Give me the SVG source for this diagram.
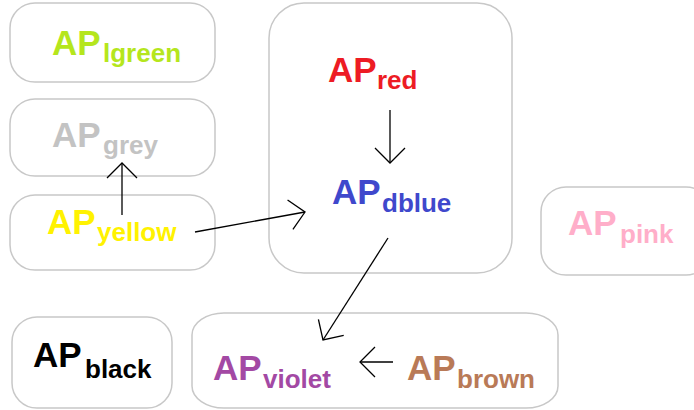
<svg xmlns="http://www.w3.org/2000/svg" width="694" height="410" viewBox="0 0 694 410">
  <style>
    .box { fill: #ffffff; stroke: #c8c8c8; stroke-width: 1.5; }
    .ap { font-family: "Liberation Sans", Arial, sans-serif; font-weight: bold; font-size: 35px; }
    .sub { font-family: "Liberation Sans", Arial, sans-serif; font-weight: bold; font-size: 26px; }
    .edge { fill: none; stroke: #000000; stroke-width: 1.3; marker-end: url(#open); }
  </style>
  <defs>
    <marker id="open" markerUnits="userSpaceOnUse" markerWidth="40" markerHeight="40" refX="20" refY="20" orient="auto" viewBox="0 0 40 40">
      <path d="M5,5 L20,20 L5,35" fill="none" stroke="#000000" stroke-width="1.3"/>
    </marker>
  </defs>
  <rect width="694" height="410" fill="#ffffff"/>

  <g id="node-lgreen">
    <rect class="box" x="10" y="3" width="205" height="79" rx="25" ry="25"/>
    <text x="52" y="55" class="ap" fill="#b5e61d">AP<tspan x="103" y="62" class="sub">lgreen</tspan></text>
  </g>

  <g id="node-grey">
    <rect class="box" x="10" y="99" width="205" height="77" rx="25" ry="25"/>
    <text x="52" y="147" class="ap" fill="#c3c3c3">AP<tspan x="103" y="154" class="sub">grey</tspan></text>
  </g>

  <g id="node-yellow">
    <rect class="box" x="10" y="195" width="205" height="75" rx="25" ry="25"/>
    <text x="47" y="234" class="ap" fill="#fff200">AP<tspan x="97" y="241" class="sub">yellow</tspan></text>
  </g>

  <g id="node-group-center">
    <rect class="box" x="269" y="3" width="243" height="270" rx="35" ry="35"/>
  </g>

  <g id="node-red">
    <text x="328" y="82" class="ap" fill="#ed1c24">AP<tspan x="377" y="89" class="sub">red</tspan></text>
  </g>

  <g id="node-dblue">
    <text x="332" y="204" class="ap" fill="#3f48cc">AP<tspan x="382" y="212" class="sub">dblue</tspan></text>
  </g>

  <g id="node-pink">
    <rect class="box" x="541" y="187" width="170" height="88" rx="25" ry="25"/>
    <text x="568" y="235" class="ap" fill="#ffaec9">AP<tspan x="620" y="243" class="sub">pink</tspan></text>
  </g>

  <g id="node-black">
    <rect class="box" x="12" y="317" width="160" height="91" rx="25" ry="25"/>
    <text x="33" y="367" class="ap" fill="#000000">AP<tspan x="85" y="378" class="sub">black</tspan></text>
  </g>

  <g id="node-group-bottom">
    <rect class="box" x="192" y="313" width="366" height="95" rx="32" ry="22"/>
  </g>

  <g id="node-violet">
    <text x="213" y="380" class="ap" fill="#a349a4">AP<tspan x="263" y="388" class="sub">violet</tspan></text>
  </g>

  <g id="node-brown">
    <text x="407" y="380" class="ap" fill="#b97a57">AP<tspan x="457" y="388" class="sub">brown</tspan></text>
  </g>

  <g id="connectors">
    <path class="edge" d="M122,215 L122,163"/>
    <path class="edge" d="M195,232 L305,212"/>
    <path class="edge" d="M390,110 L390,163"/>
    <path class="edge" d="M388,238 L323,340"/>
    <path class="edge" d="M393,362 L360,362"/>
  </g>
</svg>
